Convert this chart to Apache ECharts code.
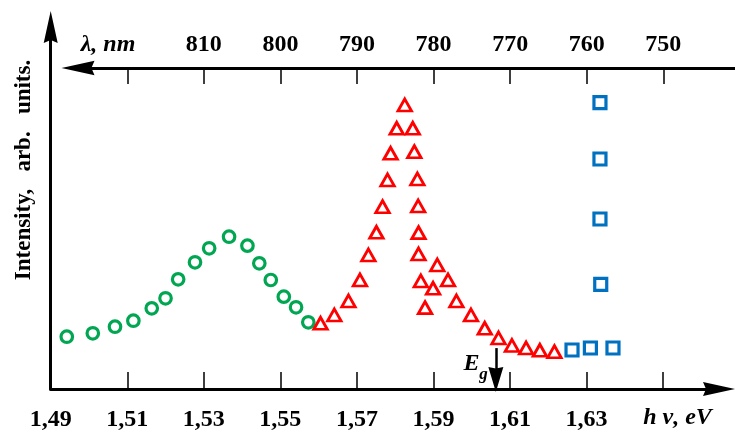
<!DOCTYPE html>
<html><head><meta charset="utf-8">
<script src="https://cdn.jsdelivr.net/npm/echarts@6/dist/echarts.min.js"></script>
<style>html,body{margin:0;padding:0;background:#fff}#c{width:735px;height:432px}</style>
</head><body><div id="c"></div>
<script>
// Photon energy (eV) and intensity (arb. units) of each data set
const greenE = [1.4942,1.5010,1.5068,1.5116,1.5164,1.5200,1.5233,1.5277,1.5314,1.5366,1.5414,1.5445,1.5475,1.5509,1.5541,1.5573];
const greenI = [14.45,15.39,17.21,18.87,22.29,25.06,30.30,35.00,38.87,42.07,39.59,34.72,30.11,25.50,22.57,18.43];
const redE = [1.5605,1.5641,1.5678,1.5708,1.5730,1.5751,1.5767,1.5780,1.5788,1.5804,1.5825,1.5846,1.5850,1.5858,1.5860,1.5861,1.5861,1.5867,1.5878,1.5899,1.5910,1.5938,1.5960,1.5998,1.6034,1.6070,1.6105,1.6142,1.6178,1.6216];
const redI = [18.15,20.44,24.31,30.11,37.02,43.29,50.36,57.73,65.11,72.02,78.45,72.02,65.55,58.01,50.55,43.18,37.29,29.83,22.46,27.82,34.25,30.11,24.31,20.44,16.77,14.09,12.02,11.33,10.69,10.30];
const blueE = [1.6262,1.6310,1.6369,1.6335,1.6335,1.6335,1.6337];
const blueI = [10.77,11.33,11.33,79.09,63.54,46.96,28.92];

// Axis ticks and labels
const bottomTickValues = [1.51,1.53,1.55,1.57,1.59,1.61,1.63,1.65];
const bottomLabelValues = [1.49,1.51,1.53,1.55,1.57,1.59,1.61,1.63];
const bottomTickLabels = ['1,49','1,51','1,53','1,55','1,57','1,59','1,61','1,63'];
const topTickValues = [1.51,1.53,1.55,1.57,1.59,1.61,1.63,1.65];
const topLabelValues = [1.53,1.55,1.57,1.59,1.61,1.63,1.65];
const topTickLabels = ['810','800','790','780','770','760','750'];

// Band gap marker (energy, arrow from / arrow head intensity)
const egEnergy = [1.6063];
const egArrowRange = [11.3, 2.6];

const pairs = (xs, ys) => xs.map((x, i) => [x, ys[i]]);
const arrowPath = 'path://M7,0 L14,32 L7,29 L0,32 Z';
const egHeadPath = 'path://M0,0 L7,1.5 L14,0 L7,25 Z';
const serif = '"Liberation Serif", "Times New Roman", serif';
const labelFromArrays = (vals, labs) => (v) => {
  const i = vals.findIndex(t => Math.abs(t - v) < 1e-6);
  return i >= 0 ? labs[i] : '';
};

const chart = echarts.init(document.getElementById('c'), null, {renderer: 'canvas'});
chart.setOption({
  animation: false,
  backgroundColor: '#fff',
  grid: [
    {left: 50.7, right: 16, top: 27, bottom: 43, containLabel: false, outerBoundsMode: 'none'},
    {left: 78, right: 0, top: 68, height: 10, containLabel: false, outerBoundsMode: 'none'}
  ],
  xAxis: [
    {
      type: 'value', gridIndex: 0, min: 1.49, max: 1.6646,
      axisLine: {show: true, onZero: false, lineStyle: {color: '#000', width: 3}, symbol: ['none', arrowPath], symbolSize: [16, 32]},
      axisTick: {show: true, inside: true, length: 17, lineStyle: {color: '#000', width: 1.5}, customValues: bottomTickValues},
      axisLabel: {show: true, customValues: bottomLabelValues, formatter: labelFromArrays(bottomLabelValues, bottomTickLabels),
        fontFamily: serif, fontWeight: 'bold', fontSize: 24, color: '#000', margin: 19},
      splitLine: {show: false}
    },
    {
      type: 'value', gridIndex: 1, position: 'top', min: 1.49713, max: 1.66873,
      axisLine: {show: true, onZero: false, lineStyle: {color: '#000', width: 3}, symbol: [arrowPath, 'none'], symbolSize: [16, 33]},
      axisTick: {show: true, inside: true, length: 16, lineStyle: {color: '#000', width: 1.5}, customValues: topTickValues},
      axisLabel: {show: true, customValues: topLabelValues, formatter: labelFromArrays(topLabelValues, topTickLabels),
        fontFamily: serif, fontWeight: 'bold', fontSize: 24, color: '#000', margin: 11},
      splitLine: {show: false}
    }
  ],
  yAxis: [
    {
      type: 'value', gridIndex: 0, min: 0, max: 100,
      axisLine: {show: true, onZero: false, lineStyle: {color: '#000', width: 3}, symbol: ['none', arrowPath], symbolSize: [15, 32]},
      axisTick: {show: false}, axisLabel: {show: false}, splitLine: {show: false}
    },
    {type: 'value', gridIndex: 1, min: 0, max: 1, show: false}
  ],
  series: [
    {
      type: 'scatter', name: 'green', xAxisIndex: 0, yAxisIndex: 0, data: pairs(greenE, greenI),
      symbol: 'circle', symbolSize: 11.5,
      itemStyle: {color: 'rgba(0,0,0,0)', borderColor: '#00a651', borderWidth: 3.2, opacity: 1},
      emphasis: {disabled: true}
    },
    {
      type: 'scatter', name: 'red', xAxisIndex: 0, yAxisIndex: 0, data: pairs(redE, redI),
      symbol: 'triangle', symbolSize: [13.5, 12],
      itemStyle: {color: 'rgba(0,0,0,0)', borderColor: '#ff0000', borderWidth: 2.8, opacity: 1},
      emphasis: {disabled: true}
    },
    {
      type: 'scatter', name: 'blue', xAxisIndex: 0, yAxisIndex: 0, data: pairs(blueE, blueI),
      symbol: 'rect', symbolSize: 12,
      itemStyle: {color: 'rgba(0,0,0,0)', borderColor: '#0070c0', borderWidth: 3.2, opacity: 1},
      emphasis: {disabled: true}
    },
    {
      type: 'scatter', name: 'Eg', xAxisIndex: 0, yAxisIndex: 0, data: [[egEnergy[0], egArrowRange[1]]],
      symbol: egHeadPath, symbolSize: [15, 25],
      itemStyle: {color: '#000', opacity: 1},
      emphasis: {disabled: true}, silent: true,
      markLine: {
        silent: true, animation: false, symbol: ['none', 'none'],
        lineStyle: {color: '#000', width: 2.5, type: 'solid', opacity: 1},
        label: {show: false}, emphasis: {disabled: true},
        data: [[{coord: [egEnergy[0], egArrowRange[0]]}, {coord: [egEnergy[0], egArrowRange[1]]}]]
      }
    }
  ],
  graphic: [
    {type: 'text', x: 24, y: 170, rotation: Math.PI / 2,
      style: {text: 'Intensity,   arb.   units.', font: 'bold 23px ' + serif, align: 'center', verticalAlign: 'middle', fill: '#000'}},
    {type: 'text', x: 108, y: 45,
      style: {text: 'λ, nm', font: 'italic bold 24px ' + serif, align: 'center', verticalAlign: 'middle', fill: '#000'}},
    {type: 'text', x: 677.5, y: 418,
      style: {text: 'h ν, eV', font: 'italic bold 24px ' + serif, align: 'center', verticalAlign: 'middle', fill: '#000'}},
    {type: 'text', x: 471.5, y: 364,
      style: {text: 'E', font: 'italic bold 24px ' + serif, align: 'center', verticalAlign: 'middle', fill: '#000'}},
    {type: 'text', x: 483.5, y: 375,
      style: {text: 'g', font: 'italic bold 17px ' + serif, align: 'center', verticalAlign: 'middle', fill: '#000'}}
  ]
});
</script>
</body></html>
